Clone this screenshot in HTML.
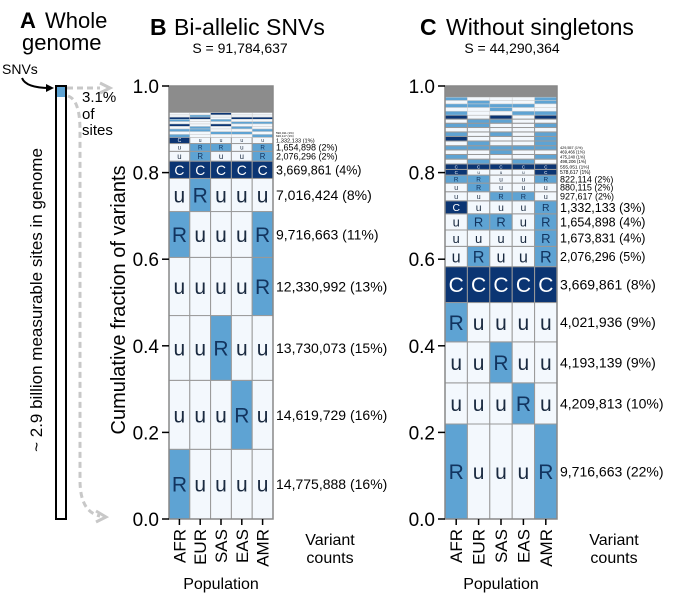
<!DOCTYPE html>
<html><head><meta charset="utf-8"><style>
body{margin:0;background:#fff}
svg{display:block;font-family:"Liberation Sans",Arial,sans-serif}
</style></head><body>
<svg id="fig" width="675" height="600" viewBox="0 0 675 600" xmlns="http://www.w3.org/2000/svg">
<g>
<text x="20" y="28" font-size="22" font-weight="bold">A</text>
<text x="45" y="28" font-size="22">Whole</text>
<text x="22" y="50" font-size="22">genome</text>
<text x="2" y="74" font-size="14">SNVs</text>
<path d="M22 78 Q26 88 50 88" fill="none" stroke="#000" stroke-width="2"/>
<path d="M46 84 L54 88 L46 92 Z" fill="#000"/>
<rect x="56" y="86" width="10" height="433" fill="#fff" stroke="#000" stroke-width="2"/>
<rect x="57" y="87" width="8" height="10" fill="#5ea3d3"/>
<line x1="67" y1="88" x2="100" y2="88" stroke="#c8c8c8" stroke-width="3" stroke-dasharray="6,4"/>
<path d="M100 83 L110 88 L100 93" fill="none" stroke="#c8c8c8" stroke-width="3"/>
<path d="M68 96 Q80 100 80 130 L80 480 Q80 512 100 516" fill="none" stroke="#c8c8c8" stroke-width="3" stroke-dasharray="6,4"/>
<path d="M96 511 L106 517 L96 522" fill="none" stroke="#c8c8c8" stroke-width="3"/>
<text x="82" y="102" font-size="15">3.1%</text>
<text x="82" y="119" font-size="15">of</text>
<text x="82" y="135" font-size="15">sites</text>
<text transform="translate(42,300) rotate(-90)" text-anchor="middle" font-size="17">~ 2.9 billion measurable sites in genome</text>
</g>
<g id="pb">
<text x="150" y="35" font-size="23" font-weight="bold">B</text>
<text x="174" y="35" font-size="23">Bi-allelic SNVs</text>
<text x="240" y="53" font-size="14" text-anchor="middle">S = 91,784,637</text>
<text transform="translate(125,300) rotate(-90)" text-anchor="middle" font-size="20">Cumulative fraction of variants</text>
</g>
<g id="pc">
<text x="420" y="35" font-size="23" font-weight="bold">C</text>
<text x="446" y="35" font-size="23">Without singletons</text>
<text x="512" y="53" font-size="14" text-anchor="middle">S = 44,290,364</text>
</g>
</svg>
<script>
const populations=["AFR","EUR","SAS","EAS","AMR"];
const yTicks=[0,0.2,0.4,0.6,0.8,1.0];
const bTotal=91784637;
const bCounts=[14775888,14619729,13730073,12330992,9716663,7016424,3669861,2076296,1654898,1332133,620000,590000,560000,540000,523117,500000,480000,470000,460000,450000];
const bPatterns=["Ruuuu","uuuRu","uuRuu","uuuuR","RuuuR","uRuuu","CCCCC","uRuuR","uRRuR","Cuuuu","RuuuR","uuRRu","RRuuR","uRuRu","CuCuu","uuuRR","RuRuu","CCuCC","uRuuu","uuCuu"];
const bLabels=["14,775,888 (16%)","14,619,729 (16%)","13,730,073 (15%)","12,330,992 (13%)","9,716,663 (11%)","7,016,424 (8%)","3,669,861 (4%)","2,076,296 (2%)","1,654,898 (2%)","1,332,133 (1%)","620,117 (1%)","590,011 (1%)","","","","","","","",""];
const cTotal=44290364;
const cCounts=[9716663,4209813,4193139,4021936,3669861,2076296,1673831,1654898,1332133,927617,880115,822114,578617,555051,498206,475240,469466,429557,480000,470000,460000,450000,440000,420000,410000,400000,380000,370000,350000,330000];
const cPatterns=["RuuuR","uuuRu","uuRuu","Ruuuu","CCCCC","uRuuR","uuuuR","uRRuR","CuuuR","uuRRu","uRuuu","RRuuR","CuuuC","CCCCC","uRuRu","RuuuR","uuRuu","RRRRR","uRuuR","CuuuR","RuRuR","uuuuu","RRuuR","uRRuu","CuCuC","RuuRR","uuRuu","RRRRu","uRuuR","RuuuR"];
const cLabels=["9,716,663 (22%)","4,209,813 (10%)","4,193,139 (9%)","4,021,936 (9%)","3,669,861 (8%)","2,076,296 (5%)","1,673,831 (4%)","1,654,898 (4%)","1,332,133 (3%)","927,617 (2%)","880,115 (2%)","822,114 (2%)","578,617 (1%)","555,051 (1%)","498,206 (1%)","475,240 (1%)","469,466 (1%)","429,557 (1%)","","","","","","","","","","","",""];
const NS="http://www.w3.org/2000/svg";
const Y0=519,YH=433;
function yScale(f){return Y0-f*YH;}
function mk(parent,tag,attrs,txt){const e=document.createElementNS(NS,tag);for(const k in attrs)e.setAttribute(k,attrs[k]);if(txt!==undefined)e.textContent=txt;parent.appendChild(e);return e;}
const fill={C:"#0b3573",R:"#5ea3d3",u:"#f3f8fd"};
function draw(gid,x0,width,total,counts,patterns,labels){
  const g=document.getElementById(gid);
  const w=width/populations.length;
  const xScale=i=>x0+i*w;
  const gray=mk(g,"rect",{x:x0,y:yScale(1),width:width,height:YH,fill:"#8c8c8c"});
  
  
  let cum=0;
  counts.forEach((c,r)=>{
    const f0=cum/total,f1=(cum+c)/total;cum+=c;
    const ya=yScale(f1),yb=yScale(f0),h=yb-ya;
    for(let i=0;i<populations.length;i++){
      const t=patterns[r][i];
      const cell=mk(g,"rect",{x:xScale(i),y:ya,width:w,height:h,fill:fill[t],stroke:h>4?"#999":"#ccc","stroke-width":h>4?1:0.5});
      
      
      if(h>5){
        const fs=Math.min(h*0.8,21);
        const tx=mk(g,"text",{x:xScale(i)+w/2,y:ya+h/2+fs*0.36,"text-anchor":"middle","font-size":fs,fill:t==="C"?"#fff":(t==="R"?"#12345f":"#1a2a40")},t);
        
        
      }
    }
    if(labels[r]){
      const fs=h>25?14:(h>12?12.5:(h>7?9:Math.max(h*0.9,3)));
      const lb=mk(g,"text",{x:x0+width+3,y:ya+h/2+fs*0.36,"font-size":fs},labels[r]);
      
      
    }
  });
  const frame=mk(g,"rect",{x:x0,y:yScale(1),width:width,height:YH,fill:"none",stroke:"#888","stroke-width":1.5});
  
  
  yTicks.forEach(v=>{
    const tk=mk(g,"line",{x1:x0-7,x2:x0,y1:yScale(v),y2:yScale(v),stroke:"#000","stroke-width":1.5});
    
    
    const tl=mk(g,"text",{x:x0-10,y:yScale(v)+7,"text-anchor":"end","font-size":19},v.toFixed(1));
    
    
  });
  populations.forEach((p,i)=>{
    const cx=xScale(i)+w/2;
    const tk=mk(g,"line",{x1:cx,x2:cx,y1:Y0,y2:Y0+6,stroke:"#000","stroke-width":1.5});
    
    
    const tl=mk(g,"text",{transform:`translate(${cx+6},${Y0+10}) rotate(-90)`,"text-anchor":"end","font-size":17},p);
    
    
  });
  const xt=mk(g,"text",{x:x0+width/2,y:589,"text-anchor":"middle","font-size":16},"Population");
  
  
  const v1=mk(g,"text",{x:x0+width+57,y:545,"text-anchor":"middle","font-size":16},"Variant");
  
  
  const v2=mk(g,"text",{x:x0+width+57,y:563,"text-anchor":"middle","font-size":16},"counts");
  
  
}
draw("pb",169,104,bTotal,bCounts,bPatterns,bLabels);
draw("pc",445,112,cTotal,cCounts,cPatterns,cLabels);
</script>
</body></html>
